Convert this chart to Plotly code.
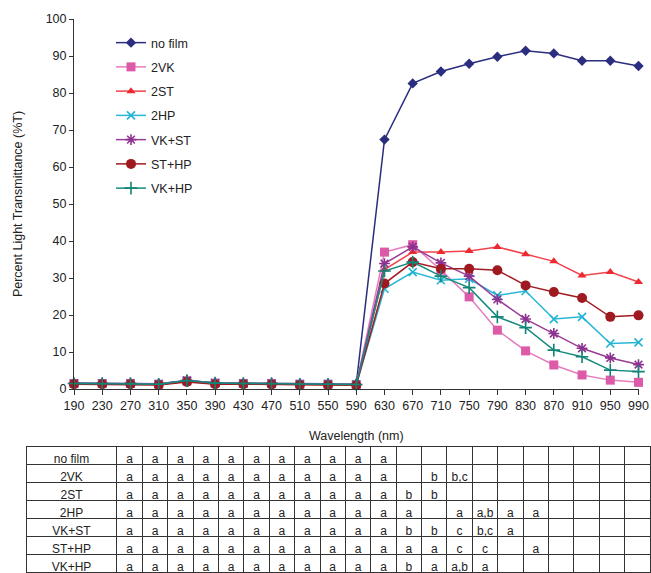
import plotly.graph_objects as go

W, H = 651, 573


def px_x(rx):
    return rx / W


def px_y(ry):
    return (H - ry) / H


wavelengths = [190, 230, 270, 310, 350, 390, 430, 470, 510, 550, 590,
               630, 670, 710, 750, 790, 830, 870, 910, 950, 990]

no_film = [1.6, 1.6, 1.6, 1.4, 2.3, 1.7, 1.6, 1.6, 1.4, 1.4, 1.3,
           67.4, 82.6, 85.8, 87.9, 89.8, 91.4, 90.7, 88.7, 88.7, 87.3]
vk2 = [1.5, 1.5, 1.5, 1.3, 2.2, 1.6, 1.5, 1.5, 1.3, 1.3, 1.2,
       37.0, 39.0, 32.1, 24.9, 15.9, 10.3, 6.5, 3.8, 2.4, 1.8]
st2 = [1.4, 1.4, 1.4, 1.2, 2.0, 1.4, 1.4, 1.3, 1.2, 1.2, 1.1,
       32.3, 37.0, 37.0, 37.3, 38.4, 36.4, 34.5, 30.7, 31.6, 28.9]
hp2 = [1.5, 1.5, 1.5, 1.3, 2.2, 1.6, 1.5, 1.4, 1.3, 1.3, 1.2,
       27.1, 31.6, 29.4, 29.8, 25.3, 26.5, 18.9, 19.5, 12.3, 12.6]
vk_st = [1.5, 1.5, 1.5, 1.3, 2.3, 1.6, 1.5, 1.5, 1.3, 1.3, 1.2,
         33.9, 38.4, 34.1, 30.5, 24.2, 18.9, 15.0, 11.0, 8.4, 6.6]
st_hp = [1.3, 1.3, 1.3, 1.1, 1.9, 1.3, 1.3, 1.2, 1.1, 1.1, 1.0,
         28.5, 34.3, 32.5, 32.5, 32.1, 28.0, 26.2, 24.6, 19.5, 19.9]
vk_hp = [1.5, 1.5, 1.5, 1.3, 2.3, 1.6, 1.5, 1.5, 1.3, 1.3, 1.2,
         31.9, 34.3, 30.5, 27.4, 19.5, 16.6, 10.5, 8.7, 5.1, 4.7]

series_names = ["no film", "2VK", "2ST", "2HP", "VK+ST", "ST+HP", "VK+HP"]
series_values = [no_film, vk2, st2, hp2, vk_st, st_hp, vk_hp]
line_colors = ["#2B2D7E", "#E47DBE", "#F2434A", "#2AB7D6", "#983C96", "#A11C22", "#168A7E"]
marker_colors = ["#2B2D7E", "#DC5AA8", "#EE2A31", "#22B4D4", "#8E3290", "#9E1A20", "#118377"]
symbols = ["diamond", "square", "triangle-up", "x-thin", "asterisk", "circle", "cross-thin"]
sizes = [8, 9, 8, 8, 9, 10, 9]

# Significance table (rows = treatments, columns = wavelengths)
table_rows = {
    "no film": ["a"] * 11 + [""] * 10,
    "2VK": ["a"] * 11 + ["", "b", "b,c"] + [""] * 7,
    "2ST": ["a"] * 11 + ["b", "b"] + [""] * 8,
    "2HP": ["a"] * 11 + ["a", "", "a", "a,b", "a", "a"] + [""] * 4,
    "VK+ST": ["a"] * 11 + ["b", "b", "c", "b,c", "a"] + [""] * 5,
    "ST+HP": ["a"] * 11 + ["a", "a", "c", "c", "", "a"] + [""] * 4,
    "VK+HP": ["a"] * 11 + ["b", "a", "a,b", "a"] + [""] * 6,
}

fig = go.Figure()

for name, vals, lc, mc, sym, sz in zip(series_names, series_values, line_colors,
                                        marker_colors, symbols, sizes):
    open_sym = sym in ("x-thin", "asterisk", "cross-thin")
    fig.add_trace(go.Scatter(
        x=wavelengths, y=vals, name=name, mode="lines+markers",
        legendgroup=name,
        line=dict(color=lc, width=1.5),
        marker=dict(symbol=sym, size=sz, color=mc,
                    line=dict(color=mc, width=1.6 if open_sym else 0)),
        cliponaxis=False,
    ))

# Table
row_names = list(table_rows.keys())
header_vals = [row_names[0]] + table_rows[row_names[0]]
body_rows = [[n] + table_rows[n] for n in row_names[1:]]
columns = [list(col) for col in zip(*body_rows)]

tfont = dict(family="Liberation Sans, Arial", size=12, color="#222222")
fig.add_trace(go.Table(
    domain=dict(x=[px_x(26), px_x(650)], y=[0, px_y(446)]),
    columnwidth=[91] + [25.4] * len(wavelengths),
    header=dict(values=header_vals, height=18, align="center",
                fill=dict(color="white"), line=dict(color="#333333", width=1),
                font=tfont),
    cells=dict(values=columns, height=18, align="center",
               fill=dict(color="white"), line=dict(color="#333333", width=1),
               font=tfont),
))

fig.update_layout(
    width=W, height=H,
    margin=dict(l=0, r=0, t=0, b=0, autoexpand=False),
    paper_bgcolor="white", plot_bgcolor="white",
    font=dict(family="Liberation Sans, Arial", size=12, color="#222222"),
    showlegend=True,
    legend=dict(x=px_x(111), y=px_y(28), xanchor="left", yanchor="top",
                bgcolor="rgba(0,0,0,0)", font=dict(size=12.5),
                tracegroupgap=5, traceorder="grouped"),
    xaxis=dict(domain=[px_x(74), px_x(638.5)], range=[190, 990], automargin=False,
               tickvals=wavelengths, ticktext=[str(w) for w in wavelengths],
               showline=True, linecolor="#333333", linewidth=1,
               ticks="outside", ticklen=5, tickcolor="#333333",
               showgrid=False, zeroline=False,
               tickfont=dict(size=12.5),
               title=dict(text="Wavelength (nm)", font=dict(size=12.5), standoff=19)),
    yaxis=dict(domain=[px_y(389), px_y(19)], range=[0, 100], dtick=10,
               automargin=False,
               showline=True, linecolor="#333333", linewidth=1,
               ticks="outside", ticklen=4, tickcolor="#333333",
               showgrid=False, zeroline=False,
               tickfont=dict(size=12.5),
               title=dict(text="Percent Light Transmittance (%T)", font=dict(size=12.5),
                          standoff=20)),
)

fig.write_html(
    "out.html",
    config={"displayModeBar": False},
    post_script="document.body.style.margin='0';document.body.style.overflow='hidden';",
)
